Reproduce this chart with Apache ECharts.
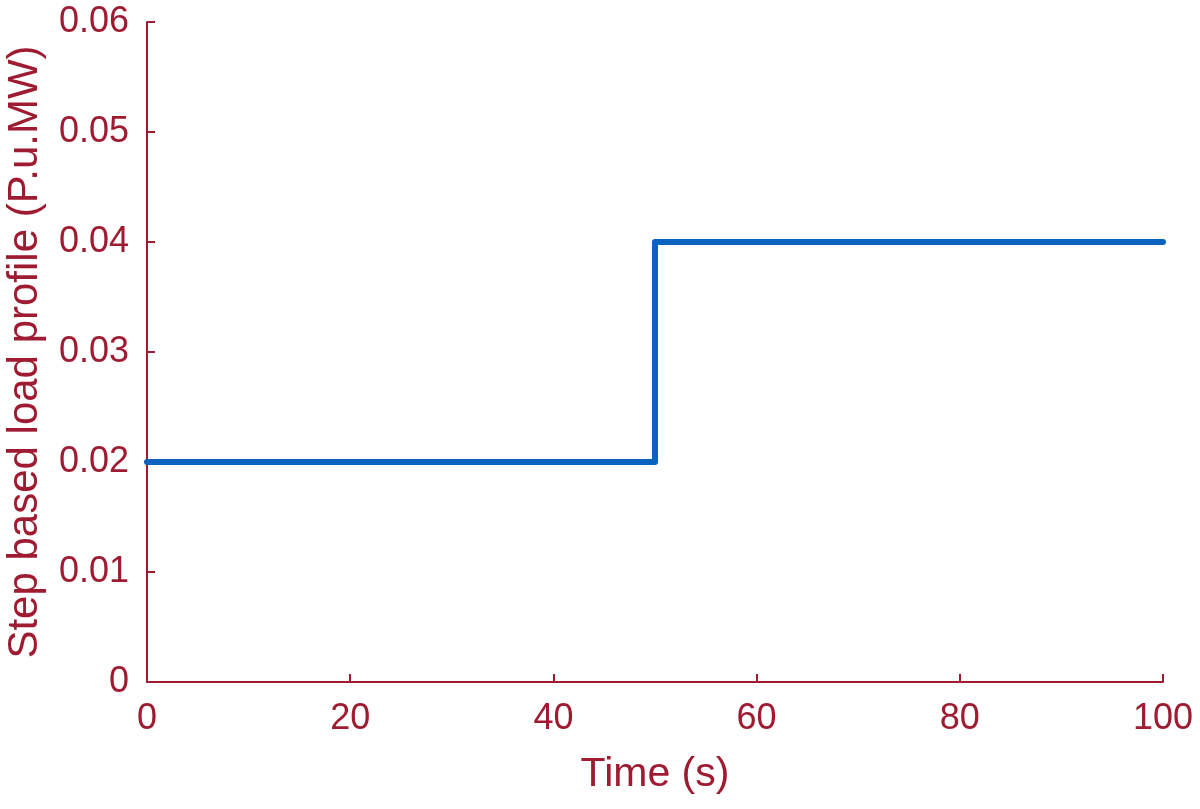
<!DOCTYPE html>
<html><head><meta charset="utf-8">
<script src="https://cdn.jsdelivr.net/npm/echarts@6/dist/echarts.min.js"></script>
<style>html,body{margin:0;padding:0;background:#fff}#c{width:1200px;height:809px}</style>
</head><body><div id="c"></div>
<script>
const timeS = [0, 50, 50, 100];
const loadPU = [0.02, 0.02, 0.04, 0.04];
const xTicks = [0, 20, 40, 60, 80, 100];
const yTicks = [0, 0.01, 0.02, 0.03, 0.04, 0.05, 0.06];
const axisColor = '#9E1B32';
const font = '"Liberation Sans", Arial, sans-serif';
const chart = echarts.init(document.getElementById('c'));
chart.setOption({
  animation: false,
  backgroundColor: '#fff',
  grid: {left: 147, right: 37, top: 22, bottom: 127, outerBoundsMode: 'none', containLabel: false},
  xAxis: {
    type: 'value', min: 0, max: 100, interval: 20,
    name: 'Time (s)', nameLocation: 'middle', nameGap: 72,
    nameTextStyle: {color: axisColor, fontSize: 41, fontFamily: font},
    axisLine: {show: true, lineStyle: {color: axisColor, width: 2}},
    axisTick: {show: true, inside: true, length: 8, lineStyle: {color: axisColor, width: 2}},
    axisLabel: {color: axisColor, fontSize: 36, fontFamily: font, margin: 19,
      formatter: v => xTicks.includes(v) ? String(v) : ''},
    splitLine: {show: false}
  },
  yAxis: {
    type: 'value', min: 0, max: 0.06, interval: 0.01,
    name: 'Step based load profile (P.u.MW)', nameLocation: 'middle', nameGap: 101,
    nameTextStyle: {color: axisColor, fontSize: 42, fontFamily: font},
    axisLine: {show: true, lineStyle: {color: axisColor, width: 2}},
    axisTick: {show: true, inside: true, length: 8, lineStyle: {color: axisColor, width: 2}},
    axisLabel: {color: axisColor, fontSize: 36, fontFamily: font, margin: 18,
      formatter: v => { const t = yTicks.find(y => Math.abs(y - v) < 1e-9); return t === undefined ? '' : (t === 0 ? '0' : t.toFixed(2)); }},
    splitLine: {show: false}
  },
  series: [{
    type: 'line',
    data: timeS.map((t, i) => [t, loadPU[i]]),
    showSymbol: false,
    lineStyle: {color: '#0A62BE', width: 6, cap: 'round', join: 'round'}
  }]
});
</script></body></html>
